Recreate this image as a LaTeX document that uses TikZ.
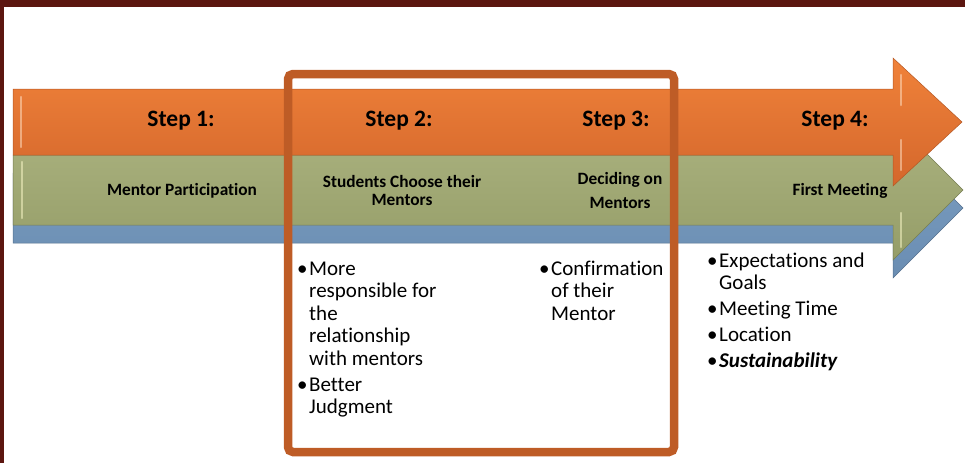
\documentclass[tikz,border=0pt]{standalone}
\usepackage{fontspec}
\setmainfont{Carlito}[Ligatures=NoCommon]

\definecolor{slideedge}{HTML}{5C1610}
\definecolor{orangetop}{HTML}{F0823A}
\definecolor{orangebot}{HTML}{D4672C}
\definecolor{greentop}{HTML}{ABB380}
\definecolor{greenbot}{HTML}{959D68}
\definecolor{bluetop}{HTML}{7C9FC2}
\definecolor{bluebot}{HTML}{6A8DB2}
\definecolor{boxorange}{HTML}{BE5C26}

% bullet mark for the note lists
\newcommand{\bmark}{\textbullet}

\begin{document}
\begin{tikzpicture}[x=1pt,y=-1pt,
  steplabel/.style={font=\fontsize{23.5}{26}\selectfont\bfseries, inner sep=0pt},
  sublabel/.style={font=\fontsize{17.3}{18}\selectfont\bfseries, align=center, inner sep=0pt},
  notes/.style={font=\fontsize{21}{22.5}\selectfont, anchor=north west, inner sep=0pt},
  shine/.style={line width=2.5pt, line cap=round, draw=#1, opacity=0.5}]
  \useasboundingbox (0,0) rectangle (965,463);
  % slide edge
  \fill[slideedge] (0,0) rectangle (965,7);
  \fill[slideedge] (0,0) rectangle (3.5,463);

  % blue arrow (back)
  \shade[top color=bluetop, bottom color=bluebot, draw=bluebot!80!black, line width=0.5pt]
    (13,173) -- (893,173) -- (893,138) -- (963,208) -- (893,278) -- (893,243) -- (13,243) -- cycle;
  % green arrow
  \shade[top color=greentop, bottom color=greenbot, draw=greenbot!80!black, line width=0.5pt]
    (13,155) -- (893,155) -- (893,120) -- (963,190) -- (893,260) -- (893,225) -- (13,225) -- cycle;
  \draw[shine=white!80!yellow] (22,162) -- (22,218);
  \draw[shine=white!80!yellow] (901,213) -- (901,247);
  % orange arrow (front)
  \shade[top color=orangetop, bottom color=orangebot, draw=orangebot!85!black, line width=0.5pt]
    (13,89) -- (893,89) -- (893,58) -- (962,122) -- (893,186) -- (893,155) -- (13,155) -- cycle;
  \draw[shine=orange!20!white] (21,97) -- (21,147);
  \draw[shine=orange!20!white] (901,75) -- (901,105);
  \draw[shine=orange!20!white] (901,140) -- (901,170);

  % frame round steps 2 and 3
  \draw[line width=8.5pt, draw=boxorange, rounded corners=5pt] (288,74) rectangle (674,452);

  % step labels
  \node[steplabel] (step1) at (181,121) {Step 1:};
  \node[steplabel] (step2) at (399,121) {Step 2:};
  \node[steplabel] (step3) at (616,121) {Step 3:};
  \node[steplabel] (step4) at (835,121) {Step 4:};

  % labels on the green arrow
  \node[sublabel] (lbl1) at (182,191) {Mentor Participation};
  \node[sublabel] (lbl2) at (402,190) {Students Choose their\\Mentors};
  \node[sublabel, font=\fontsize{17.3}{24}\selectfont\bfseries] (lbl3) at (620,190) {Deciding on\\Mentors};
  \node[sublabel] (lbl4) at (840,191) {First Meeting};

  % notes under the arrows
  \node[notes] (notes2) at (297,259.5) {\begin{tabular}[t]{@{}p{12pt}@{}l@{}}
    \bmark & More\\ & responsible for\\ & the\\ & relationship\\ & with mentors\\[3.5pt]
    \bmark & Better\\ & Judgment
  \end{tabular}};
  \node[notes] (notes3) at (539,259.5) {\begin{tabular}[t]{@{}p{12pt}@{}l@{}}
    \bmark & Confirmation\\ & of their\\ & Mentor
  \end{tabular}};
  \node[notes] (notes4) at (707,251.5) {\begin{tabular}[t]{@{}p{12pt}@{}l@{}}
    \bmark & Expectations and\\ & Goals\\[3.5pt]
    \bmark & Meeting Time\\[3.5pt]
    \bmark & Location\\[3.5pt]
    \bmark & \textbf{\textit{Sustainability}}
  \end{tabular}};
\end{tikzpicture}
\end{document}
